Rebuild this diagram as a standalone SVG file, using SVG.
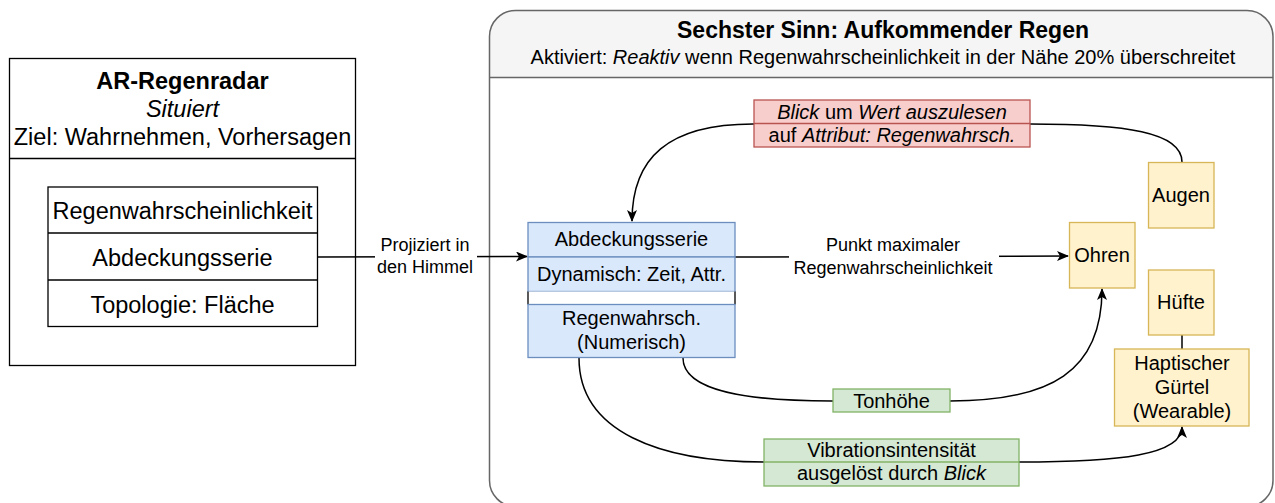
<svg xmlns="http://www.w3.org/2000/svg" width="1275" height="503" viewBox="0 0 1275 503">
  <style>
    text { font-family: "Liberation Sans", Arial, sans-serif; fill: #000; }
    .c { text-anchor: middle; }
    .b { font-weight: bold; }
    .i { font-style: italic; }
    .f23 { font-size: 23px; }
    .f235 { font-size: 23.5px; }
    .f20 { font-size: 20px; }
    .f18 { font-size: 18px; }
    .frame { fill: none; stroke: #000; stroke-width: 1.3; }
    .blue { fill: #dae8fc; stroke: #6c8ebf; stroke-width: 1.3; }
    .yellow { fill: #fff2cc; stroke: #d6b656; stroke-width: 1.3; }
    .green { fill: #d5e8d4; stroke: #82b366; stroke-width: 1.3; }
    .red { fill: #f8cecc; stroke: #b85450; stroke-width: 1.3; }
    .edge { fill: none; stroke: #000; stroke-width: 1.5; }
  </style>
  <defs>
    <marker id="tip" viewBox="0 0 12 10" refX="11" refY="5" markerWidth="12" markerHeight="10" markerUnits="userSpaceOnUse" orient="auto">
      <path d="M0,0 L12,5 L0,10 L3,5 Z" fill="#000"/>
    </marker>
  </defs>

  <rect width="1275" height="503" fill="#fff"/>

  <!-- Left system card -->
  <g id="ar-regenradar">
    <rect class="frame" x="9.5" y="58.5" width="346" height="307" fill="#fff"/>
    <line class="frame" x1="9.5" y1="158.5" x2="355.5" y2="158.5"/>
    <text class="c b f235" x="182.5" y="89">AR-Regenradar</text>
    <text class="c i f235" x="182.5" y="117">Situiert</text>
    <text class="c f235" x="182.5" y="145">Ziel: Wahrnehmen, Vorhersagen</text>
  </g>
  <g id="ar-data">
    <rect class="frame" x="48" y="187" width="269.5" height="139.5" fill="#fff"/>
    <line class="frame" x1="48" y1="233" x2="317.5" y2="233"/>
    <line class="frame" x1="48" y1="280" x2="317.5" y2="280"/>
    <text class="c f235" x="182.5" y="219">Regenwahrscheinlichkeit</text>
    <text class="c f235" x="182.5" y="266">Abdeckungsserie</text>
    <text class="c f235" x="182.5" y="313">Topologie: Fläche</text>
  </g>

  <!-- Sixth-sense container -->
  <g id="sechster-sinn">
    <rect x="489.5" y="10.5" width="783.5" height="496" rx="26" fill="#fff"/>
    <path d="M489.5,77.5 V36.5 A26,26 0 0 1 515.5,10.5 H1247 A26,26 0 0 1 1273,36.5 V77.5 Z" fill="#f5f5f5"/>
    <rect x="489.5" y="10.5" width="783.5" height="496" rx="26" fill="none" stroke="#666" stroke-width="1.5"/>
    <line x1="489.5" y1="77.5" x2="1273" y2="77.5" stroke="#666" stroke-width="1.5"/>
    <text class="c b f23" x="883" y="38" fill="#333">Sechster Sinn: Aufkommender Regen</text>
    <text class="c f20" x="883" y="64" fill="#333">Aktiviert: <tspan class="i">Reaktiv</tspan> wenn Regenwahrscheinlichkeit in der Nähe 20% überschreitet</text>
  </g>

  <!-- Connectors -->
  <g id="connectors">
    <path class="edge" d="M317.5,257 L527,256.5" marker-end="url(#tip)"/>
    <rect x="375" y="233" width="102" height="46" fill="#fff"/>
    <text class="c f18" x="425" y="251">Projiziert in</text>
    <text class="c f18" x="425" y="273">den Himmel</text>

    <path class="edge" d="M735,257 L1068,256" marker-end="url(#tip)"/>
    <rect x="789" y="234" width="210" height="44" fill="#fff"/>
    <text class="c f18" x="893" y="251">Punkt maximaler</text>
    <text class="c f18" x="893" y="274">Regenwahrscheinlichkeit</text>

    <path class="edge" d="M1182,162 C1182,132 1125,124 1030,124 L753,124 C668,124 632,158 632,221" marker-end="url(#tip)"/>

    <path class="edge" d="M683,358 C683,392 750,401 832,401 L950,401 C1050,401 1102,372 1102,289" marker-end="url(#tip)"/>

    <path class="edge" d="M579,358 C579,432 660,462 764,462 L1019,462 C1120,462 1182,455 1182,427" marker-end="url(#tip)"/>

    <line class="edge" x1="1182" y1="335" x2="1182" y2="349"/>
  </g>

  <!-- Gaze label -->
  <g id="blick-label">
    <rect class="red" x="754" y="100" width="276" height="47"/>
    <line x1="754" y1="123.5" x2="1030" y2="123.5" stroke="#b85450" stroke-width="1.3"/>
    <text class="c f20" x="892" y="119"><tspan class="i">Blick</tspan> um <tspan class="i">Wert auszulesen</tspan></text>
    <text class="c f20" x="892" y="142">auf <tspan class="i">Attribut: Regenwahrsch.</tspan></text>
  </g>

  <!-- Coverage series data node -->
  <g id="abdeckungsserie">
    <rect class="blue" x="528" y="222.5" width="207" height="34.5"/>
    <rect class="blue" x="528" y="257" width="207" height="34.5"/>
    <rect x="528" y="291.5" width="207" height="13" fill="#fff"/>
    <line x1="528" y1="291.5" x2="528" y2="304.5" stroke="#000" stroke-width="1.3"/>
    <line x1="735" y1="291.5" x2="735" y2="304.5" stroke="#000" stroke-width="1.3"/>
    <rect class="blue" x="528" y="304.5" width="207" height="53"/>
    <text class="c f20" x="631.5" y="246">Abdeckungsserie</text>
    <text class="c f20" x="631.5" y="281">Dynamisch: Zeit, Attr.</text>
    <text class="c f20" x="631.5" y="325">Regenwahrsch.</text>
    <text class="c f20" x="631.5" y="349">(Numerisch)</text>
  </g>

  <!-- Body channels -->
  <g id="augen">
    <rect class="yellow" x="1148.5" y="162.5" width="65.5" height="65.5"/>
    <text class="c f20" x="1181" y="202">Augen</text>
  </g>
  <g id="ohren">
    <rect class="yellow" x="1069.5" y="222.5" width="65.5" height="65.5"/>
    <text class="c f20" x="1102" y="262">Ohren</text>
  </g>
  <g id="huefte">
    <rect class="yellow" x="1148.5" y="270" width="65.5" height="65"/>
    <text class="c f20" x="1181" y="309">Hüfte</text>
  </g>
  <g id="haptischer-guertel">
    <rect class="yellow" x="1114.5" y="349" width="134.5" height="77"/>
    <text class="c f20" x="1182" y="370">Haptischer</text>
    <text class="c f20" x="1182" y="394">Gürtel</text>
    <text class="c f20" x="1182" y="418">(Wearable)</text>
  </g>

  <!-- Encoding labels -->
  <g id="tonhoehe">
    <rect class="green" x="833" y="389" width="117" height="23"/>
    <text class="c f20" x="891.5" y="407.5">Tonhöhe</text>
  </g>
  <g id="vibrationsintensitaet">
    <rect class="green" x="764" y="439" width="255" height="47"/>
    <line x1="764" y1="462" x2="1019" y2="462" stroke="#82b366" stroke-width="1.3"/>
    <text class="c f20" x="891.5" y="457">Vibrationsintensität</text>
    <text class="c f20" x="891.5" y="480">ausgelöst durch <tspan class="i">Blick</tspan></text>
  </g>
</svg>
